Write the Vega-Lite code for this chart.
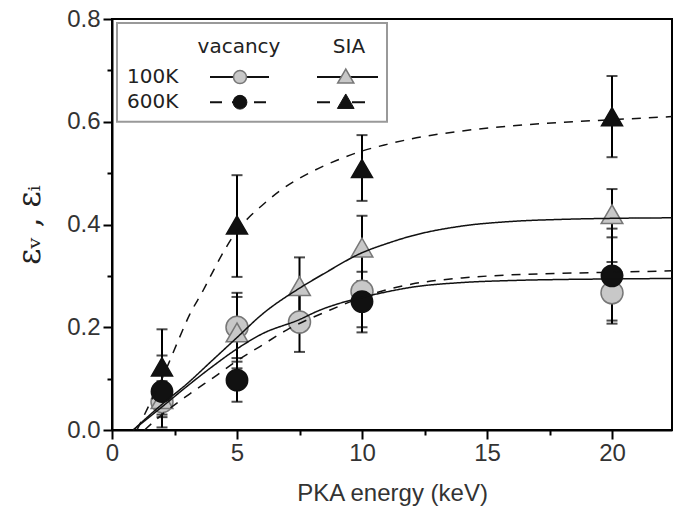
{
  "$schema": "https://vega.github.io/schema/vega-lite/v6.json",
  "width": 560,
  "height": 411,
  "autosize": {"type": "none"},
  "padding": {"left": 112, "top": 19, "right": 3, "bottom": 83},
  "background": "white",
  "config": {"view": {"stroke": "#000", "strokeWidth": 2}, "font": "Liberation Sans"},
  "datasets": {
    "points": [
      {"series": "100K vacancy", "temp": "100K", "defect": "vacancy", "E": 2, "eff": 0.055, "lo": 0.03, "hi": 0.08},
      {"series": "100K vacancy", "temp": "100K", "defect": "vacancy", "E": 5, "eff": 0.2, "lo": 0.133, "hi": 0.267},
      {"series": "100K vacancy", "temp": "100K", "defect": "vacancy", "E": 7.5, "eff": 0.21, "lo": 0.152, "hi": 0.268},
      {"series": "100K vacancy", "temp": "100K", "defect": "vacancy", "E": 10, "eff": 0.27, "lo": 0.2, "hi": 0.34},
      {"series": "100K vacancy", "temp": "100K", "defect": "vacancy", "E": 20, "eff": 0.267, "lo": 0.207, "hi": 0.327},
      {"series": "100K SIA", "temp": "100K", "defect": "SIA", "E": 2, "eff": 0.06, "lo": 0.025, "hi": 0.095},
      {"series": "100K SIA", "temp": "100K", "defect": "SIA", "E": 5, "eff": 0.19, "lo": 0.12, "hi": 0.259},
      {"series": "100K SIA", "temp": "100K", "defect": "SIA", "E": 7.5, "eff": 0.28, "lo": 0.225, "hi": 0.336},
      {"series": "100K SIA", "temp": "100K", "defect": "SIA", "E": 10, "eff": 0.355, "lo": 0.29, "hi": 0.417},
      {"series": "100K SIA", "temp": "100K", "defect": "SIA", "E": 20, "eff": 0.42, "lo": 0.375, "hi": 0.469},
      {"series": "600K vacancy", "temp": "600K", "defect": "vacancy", "E": 2, "eff": 0.075, "lo": 0.005, "hi": 0.145},
      {"series": "600K vacancy", "temp": "600K", "defect": "vacancy", "E": 5, "eff": 0.097, "lo": 0.055, "hi": 0.14},
      {"series": "600K vacancy", "temp": "600K", "defect": "vacancy", "E": 10, "eff": 0.25, "lo": 0.19, "hi": 0.308},
      {"series": "600K vacancy", "temp": "600K", "defect": "vacancy", "E": 20, "eff": 0.3, "lo": 0.213, "hi": 0.392},
      {"series": "600K SIA", "temp": "600K", "defect": "SIA", "E": 2, "eff": 0.123, "lo": 0.05, "hi": 0.196},
      {"series": "600K SIA", "temp": "600K", "defect": "SIA", "E": 5, "eff": 0.399, "lo": 0.298, "hi": 0.496},
      {"series": "600K SIA", "temp": "600K", "defect": "SIA", "E": 10, "eff": 0.509, "lo": 0.446, "hi": 0.574},
      {"series": "600K SIA", "temp": "600K", "defect": "SIA", "E": 20, "eff": 0.61, "lo": 0.531, "hi": 0.689}
    ],
    "fits": [
      {"series": "100K vacancy", "temp": "100K", "E": 0.85, "eff": 0},
      {"series": "100K vacancy", "temp": "100K", "E": 2, "eff": 0.045},
      {"series": "100K vacancy", "temp": "100K", "E": 3, "eff": 0.085},
      {"series": "100K vacancy", "temp": "100K", "E": 4, "eff": 0.123},
      {"series": "100K vacancy", "temp": "100K", "E": 5, "eff": 0.158},
      {"series": "100K vacancy", "temp": "100K", "E": 6, "eff": 0.187},
      {"series": "100K vacancy", "temp": "100K", "E": 7.5, "eff": 0.215},
      {"series": "100K vacancy", "temp": "100K", "E": 8.3, "eff": 0.233},
      {"series": "100K vacancy", "temp": "100K", "E": 9, "eff": 0.245},
      {"series": "100K vacancy", "temp": "100K", "E": 10, "eff": 0.258},
      {"series": "100K vacancy", "temp": "100K", "E": 11, "eff": 0.269},
      {"series": "100K vacancy", "temp": "100K", "E": 12, "eff": 0.278},
      {"series": "100K vacancy", "temp": "100K", "E": 14, "eff": 0.287},
      {"series": "100K vacancy", "temp": "100K", "E": 16, "eff": 0.291},
      {"series": "100K vacancy", "temp": "100K", "E": 18, "eff": 0.293},
      {"series": "100K vacancy", "temp": "100K", "E": 20, "eff": 0.294},
      {"series": "100K vacancy", "temp": "100K", "E": 22.4, "eff": 0.295},
      {"series": "100K SIA", "temp": "100K", "E": 0.85, "eff": 0},
      {"series": "100K SIA", "temp": "100K", "E": 2, "eff": 0.05},
      {"series": "100K SIA", "temp": "100K", "E": 3, "eff": 0.09},
      {"series": "100K SIA", "temp": "100K", "E": 4, "eff": 0.135},
      {"series": "100K SIA", "temp": "100K", "E": 5, "eff": 0.18},
      {"series": "100K SIA", "temp": "100K", "E": 6, "eff": 0.225},
      {"series": "100K SIA", "temp": "100K", "E": 7.5, "eff": 0.276},
      {"series": "100K SIA", "temp": "100K", "E": 8.5, "eff": 0.305},
      {"series": "100K SIA", "temp": "100K", "E": 10, "eff": 0.345},
      {"series": "100K SIA", "temp": "100K", "E": 11, "eff": 0.363},
      {"series": "100K SIA", "temp": "100K", "E": 12, "eff": 0.378},
      {"series": "100K SIA", "temp": "100K", "E": 14, "eff": 0.397},
      {"series": "100K SIA", "temp": "100K", "E": 16, "eff": 0.406},
      {"series": "100K SIA", "temp": "100K", "E": 18, "eff": 0.41},
      {"series": "100K SIA", "temp": "100K", "E": 20, "eff": 0.412},
      {"series": "100K SIA", "temp": "100K", "E": 22.4, "eff": 0.413},
      {"series": "600K vacancy", "temp": "600K", "E": 1.3, "eff": 0},
      {"series": "600K vacancy", "temp": "600K", "E": 2, "eff": 0.03},
      {"series": "600K vacancy", "temp": "600K", "E": 3.1, "eff": 0.07},
      {"series": "600K vacancy", "temp": "600K", "E": 4.2, "eff": 0.107},
      {"series": "600K vacancy", "temp": "600K", "E": 5, "eff": 0.135},
      {"series": "600K vacancy", "temp": "600K", "E": 5.9, "eff": 0.162},
      {"series": "600K vacancy", "temp": "600K", "E": 7, "eff": 0.195},
      {"series": "600K vacancy", "temp": "600K", "E": 8.7, "eff": 0.233},
      {"series": "600K vacancy", "temp": "600K", "E": 10, "eff": 0.258},
      {"series": "600K vacancy", "temp": "600K", "E": 11, "eff": 0.273},
      {"series": "600K vacancy", "temp": "600K", "E": 12, "eff": 0.284},
      {"series": "600K vacancy", "temp": "600K", "E": 14, "eff": 0.296},
      {"series": "600K vacancy", "temp": "600K", "E": 16, "eff": 0.302},
      {"series": "600K vacancy", "temp": "600K", "E": 18, "eff": 0.305},
      {"series": "600K vacancy", "temp": "600K", "E": 20, "eff": 0.307},
      {"series": "600K vacancy", "temp": "600K", "E": 22.4, "eff": 0.31},
      {"series": "600K SIA", "temp": "600K", "E": 1.0, "eff": 0},
      {"series": "600K SIA", "temp": "600K", "E": 1.5, "eff": 0.05},
      {"series": "600K SIA", "temp": "600K", "E": 2, "eff": 0.1},
      {"series": "600K SIA", "temp": "600K", "E": 2.7, "eff": 0.18},
      {"series": "600K SIA", "temp": "600K", "E": 3.1, "eff": 0.224},
      {"series": "600K SIA", "temp": "600K", "E": 3.65, "eff": 0.272},
      {"series": "600K SIA", "temp": "600K", "E": 4, "eff": 0.305},
      {"series": "600K SIA", "temp": "600K", "E": 4.5, "eff": 0.35},
      {"series": "600K SIA", "temp": "600K", "E": 5, "eff": 0.388},
      {"series": "600K SIA", "temp": "600K", "E": 5.5, "eff": 0.415},
      {"series": "600K SIA", "temp": "600K", "E": 6, "eff": 0.437},
      {"series": "600K SIA", "temp": "600K", "E": 6.7, "eff": 0.465},
      {"series": "600K SIA", "temp": "600K", "E": 8, "eff": 0.503},
      {"series": "600K SIA", "temp": "600K", "E": 9, "eff": 0.525},
      {"series": "600K SIA", "temp": "600K", "E": 10, "eff": 0.543},
      {"series": "600K SIA", "temp": "600K", "E": 11, "eff": 0.556},
      {"series": "600K SIA", "temp": "600K", "E": 12, "eff": 0.567},
      {"series": "600K SIA", "temp": "600K", "E": 14, "eff": 0.582},
      {"series": "600K SIA", "temp": "600K", "E": 16, "eff": 0.592},
      {"series": "600K SIA", "temp": "600K", "E": 18, "eff": 0.599},
      {"series": "600K SIA", "temp": "600K", "E": 20, "eff": 0.604},
      {"series": "600K SIA", "temp": "600K", "E": 22.4, "eff": 0.61}
    ]
  },
  "layer": [
    {
      "data": {"name": "points"},
      "mark": {"type": "rule", "color": "#000", "strokeWidth": 2},
      "encoding": {
        "x": {
          "field": "E", "type": "quantitative",
          "scale": {"domain": [0, 22.4], "nice": false, "zero": false},
          "axis": {
            "title": "PKA energy (keV)",
            "values": [0, 2.5, 5, 7.5, 10, 12.5, 15, 17.5, 20],
            "labelExpr": "datum.value % 5 == 0 ? datum.label : ''",
            "tickSize": {"condition": {"test": "datum.value % 5 == 0", "value": 9}, "value": 5},
            "tickWidth": 2, "tickColor": "#000",
            "domainColor": "#000", "domainWidth": 2,
            "labelFontSize": 24, "labelColor": "#333", "labelPadding": 2,
            "labelOverlap": false, "labelFlush": false,
            "grid": false,
            "titleFontSize": 24, "titleFontWeight": "normal", "titleColor": "#333", "titlePadding": 16
          }
        },
        "y": {
          "field": "lo", "type": "quantitative",
          "scale": {"domain": [0, 0.8], "nice": false, "zero": false},
          "axis": {
            "title": "εᵥ , εᵢ",
            "values": [0, 0.1, 0.2, 0.3, 0.4, 0.5, 0.6, 0.7, 0.8],
            "labelExpr": "round(datum.value*10) % 2 == 0 ? format(datum.value, '.1f') : ''",
            "tickSize": {"condition": {"test": "round(datum.value*10) % 2 == 0", "value": 9}, "value": 5},
            "tickWidth": 2, "tickColor": "#000",
            "domainColor": "#000", "domainWidth": 2,
            "labelFontSize": 24, "labelColor": "#333", "labelPadding": 3,
            "labelOverlap": false, "labelFlush": false,
            "grid": false,
            "titleFontSize": 31, "titleFont": "DejaVu Serif", "titleFontWeight": "normal", "titleColor": "#222", "titlePadding": 20
          }
        },
        "y2": {"field": "hi"}
      }
    },
    {
      "data": {"name": "points"},
      "mark": {"type": "tick", "orient": "horizontal", "size": 11, "thickness": 2, "color": "#000"},
      "encoding": {
        "x": {"field": "E", "type": "quantitative", "title": "PKA energy (keV)"},
        "y": {"field": "lo", "type": "quantitative", "title": "εᵥ , εᵢ"}
      }
    },
    {
      "data": {"name": "points"},
      "mark": {"type": "tick", "orient": "horizontal", "size": 11, "thickness": 2, "color": "#000"},
      "encoding": {
        "x": {"field": "E", "type": "quantitative", "title": "PKA energy (keV)"},
        "y": {"field": "hi", "type": "quantitative", "title": "εᵥ , εᵢ"}
      }
    },
    {
      "data": {"name": "points"},
      "mark": {"type": "point", "filled": true, "strokeWidth": 1.5, "opacity": 1},
      "encoding": {
        "x": {"field": "E", "type": "quantitative", "title": "PKA energy (keV)"},
        "y": {"field": "eff", "type": "quantitative", "title": "εᵥ , εᵢ"},
        "shape": {"field": "defect", "type": "nominal", "scale": {"domain": ["vacancy", "SIA"], "range": ["circle", "triangle-up"]}, "legend": null},
        "fill": {"field": "temp", "type": "nominal", "scale": {"domain": ["100K", "600K"], "range": ["#c8c8c8", "#111111"]}, "legend": null},
        "stroke": {"field": "temp", "type": "nominal", "scale": {"domain": ["100K", "600K"], "range": ["#777777", "#111111"]}, "legend": null},
        "size": {"field": "series", "type": "nominal", "scale": {"domain": ["100K vacancy", "100K SIA", "600K vacancy", "600K SIA"], "range": [484, 441, 361, 441]}, "legend": null}
      }
    },
    {
      "data": {"name": "fits"},
      "mark": {"type": "line", "interpolate": "monotone", "strokeWidth": 1.5, "color": "#111"},
      "encoding": {
        "x": {"field": "E", "type": "quantitative", "title": "PKA energy (keV)"},
        "y": {"field": "eff", "type": "quantitative", "title": "εᵥ , εᵢ"},
        "detail": {"field": "series", "type": "nominal"},
        "strokeDash": {"field": "temp", "type": "nominal", "scale": {"domain": ["100K", "600K"], "range": [[1, 0], [9, 8]]}, "legend": null}
      }
    },
    {
      "data": {"values": [{}]},
      "mark": {"type": "rect", "fill": "white", "stroke": "#999", "strokeWidth": 2},
      "encoding": {"x": {"datum": 0.2}, "x2": {"datum": 11.0}, "y": {"datum": 0.792}, "y2": {"datum": 0.6}}
    },
    {
      "data": {"values": [{}]},
      "mark": {"type": "text", "text": "vacancy", "font": "DejaVu Sans", "fontSize": 20, "color": "#222", "align": "center", "baseline": "middle"},
      "encoding": {"x": {"datum": 5.08}, "y": {"datum": 0.746}}
    },
    {
      "data": {"values": [{}]},
      "mark": {"type": "text", "text": "SIA", "font": "DejaVu Sans", "fontSize": 20, "color": "#222", "align": "center", "baseline": "middle"},
      "encoding": {"x": {"datum": 9.48}, "y": {"datum": 0.746}}
    },
    {
      "data": {"values": [{}]},
      "mark": {"type": "text", "text": "100K", "font": "DejaVu Sans", "fontSize": 20, "color": "#222", "align": "left", "baseline": "middle"},
      "encoding": {"x": {"datum": 0.6}, "y": {"datum": 0.687}}
    },
    {
      "data": {"values": [{}]},
      "mark": {"type": "text", "text": "600K", "font": "DejaVu Sans", "fontSize": 20, "color": "#222", "align": "left", "baseline": "middle"},
      "encoding": {"x": {"datum": 0.6}, "y": {"datum": 0.638}}
    },
    {
      "data": {"values": [{}]},
      "mark": {"type": "rule", "color": "#111", "strokeWidth": 2},
      "encoding": {"x": {"datum": 3.92}, "x2": {"datum": 6.28}, "y": {"datum": 0.687}}
    },
    {
      "data": {"values": [{}]},
      "mark": {"type": "rule", "color": "#111", "strokeWidth": 2},
      "encoding": {"x": {"datum": 8.2}, "x2": {"datum": 10.64}, "y": {"datum": 0.687}}
    },
    {
      "data": {"values": [{}]},
      "mark": {"type": "rule", "color": "#111", "strokeWidth": 2, "strokeDash": [12, 10]},
      "encoding": {"x": {"datum": 3.92}, "x2": {"datum": 6.28}, "y": {"datum": 0.638}}
    },
    {
      "data": {"values": [{}]},
      "mark": {"type": "rule", "color": "#111", "strokeWidth": 2, "strokeDash": [13, 22]},
      "encoding": {"x": {"datum": 8.2}, "x2": {"datum": 10.64}, "y": {"datum": 0.638}}
    },
    {
      "data": {"values": [{}]},
      "mark": {"type": "point", "shape": "circle", "filled": true, "fill": "#c8c8c8", "stroke": "#777", "strokeWidth": 1.5, "size": 170, "opacity": 1},
      "encoding": {"x": {"datum": 5.12}, "y": {"datum": 0.687}}
    },
    {
      "data": {"values": [{}]},
      "mark": {"type": "point", "shape": "triangle-up", "filled": true, "fill": "#c8c8c8", "stroke": "#777", "strokeWidth": 1.5, "size": 260, "opacity": 1},
      "encoding": {"x": {"datum": 9.35}, "y": {"datum": 0.689}}
    },
    {
      "data": {"values": [{}]},
      "mark": {"type": "point", "shape": "circle", "filled": true, "fill": "#111", "stroke": "#111", "strokeWidth": 1, "size": 190, "opacity": 1},
      "encoding": {"x": {"datum": 5.12}, "y": {"datum": 0.638}}
    },
    {
      "data": {"values": [{}]},
      "mark": {"type": "point", "shape": "triangle-up", "filled": true, "fill": "#111", "stroke": "#111", "strokeWidth": 1, "size": 280, "opacity": 1},
      "encoding": {"x": {"datum": 9.35}, "y": {"datum": 0.64}}
    }
  ]
}
